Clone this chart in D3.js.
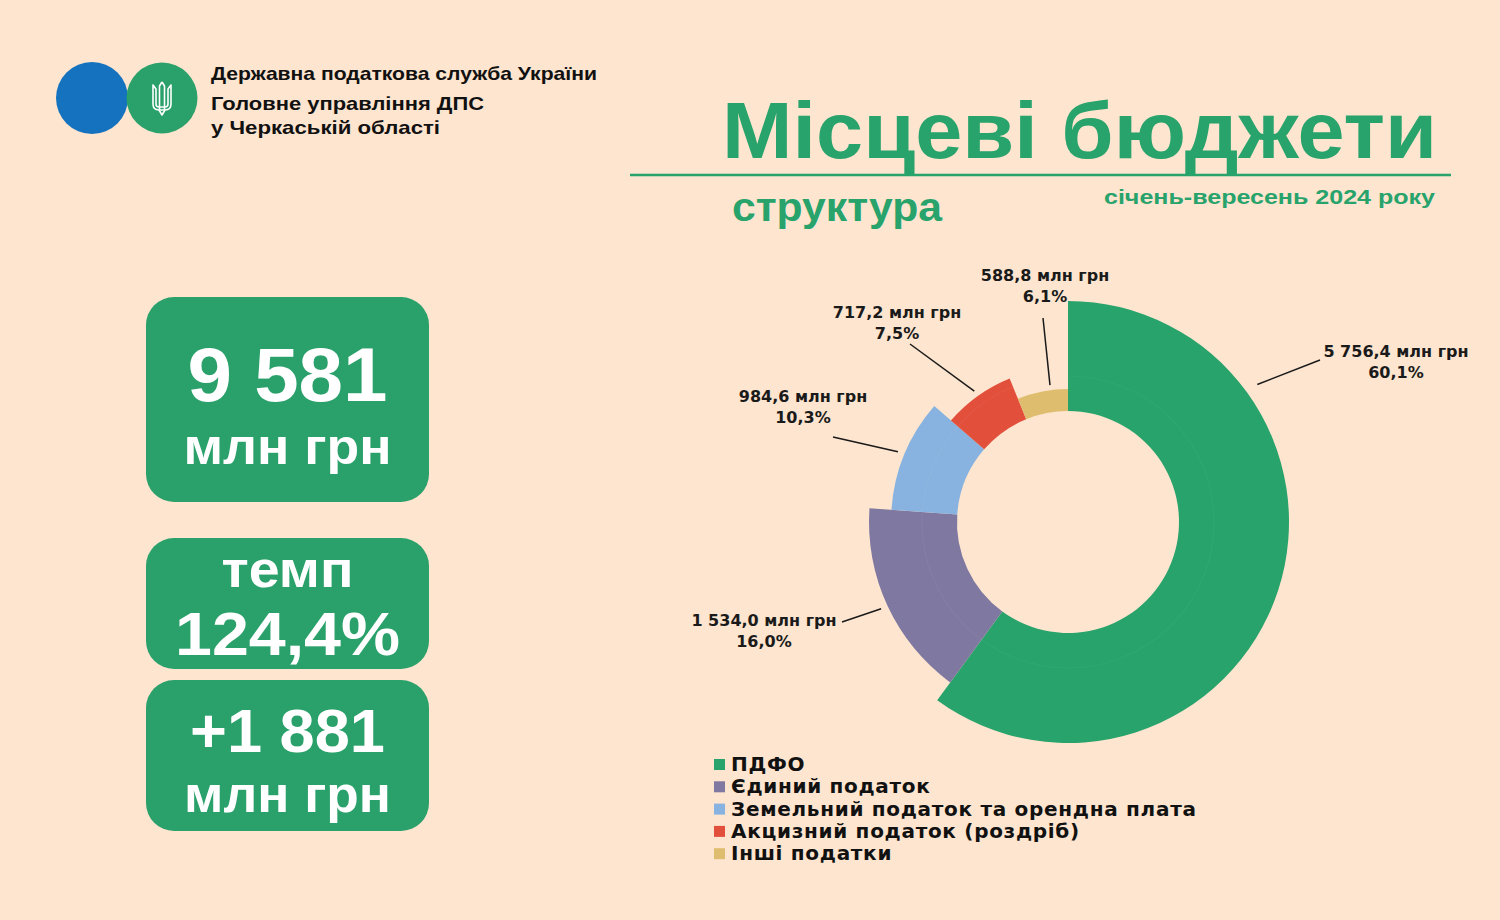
<!DOCTYPE html>
<html>
<head>
<meta charset="utf-8">
<script src="https://cdn.jsdelivr.net/npm/d3@7"></script>
<style>
  html, body { margin: 0; padding: 0; background: #fde5cf; }
  svg { display: block; }
</style>
</head>
<body>
<svg id="chart"></svg>
<script>
// ---- data ----
var categories = ["ПДФО", "Єдиний податок", "Земельний податок та орендна плата", "Акцизний податок (роздріб)", "Інші податки"];
var values = [5756.4, 1534.0, 984.6, 717.2, 588.8];
var shares = [60.1, 16.0, 10.3, 7.5, 6.1];
var colors = ["#27a36b", "#7f78a0", "#88b2df", "#e2503c", "#dfbd6e"];

var totalText = ["9 581", "млн грн"];
var tempText = ["темп", "124,4%"];
var deltaText = ["+1 881", "млн грн"];

var orgLines = ["Державна податкова служба України", "Головне управління ДПС", "у Черкаській області"];
var title = "Місцеві бюджети";
var subtitle = "структура";
var period = "січень-вересень 2024 року";

// ---- layout ----
var W = 1500, H = 920;
var green = "#27a36b";
var boxGreen = "#2aa06b";
var cx = 1068, cy = 522, innerR = 111;

// label placement per slice (ang in degrees from 12 o'clock, null = mid of slice)
var labelLayout = [
    {ang: 54, gap: 13, lx: 1320, ly: 360, tx: 1396, ty: 357},
    {ang: null, gap: 7, lx: 842, ly: 622, tx: 764, ty: 626},
    {ang: null, gap: 7, lx: 833, ly: 437, tx: 803, ty: 402},
    {ang: null, gap: 6, lx: 910, ly: 344, tx: 897, ty: 318},
    {ang: 352.5, gap: 5, lx: 1043, ly: 318, tx: 1045, ty: 281}
];

var svg = d3.select("#chart")
    .attr("width", W)
    .attr("height", H);

svg.append("rect")
    .attr("width", W).attr("height", H)
    .attr("fill", "#fde5cf");

// ---- header ----
svg.append("circle").attr("cx", 92).attr("cy", 98).attr("r", 36).attr("fill", "#1572be");
svg.append("circle").attr("cx", 162).attr("cy", 98).attr("r", 35.5).attr("fill", "#2aa06b");
var tr = svg.append("g")
    .attr("transform", "translate(162,98)")
    .attr("fill", "none")
    .attr("stroke", "#fff")
    .attr("stroke-width", 1.6)
    .attr("stroke-linejoin", "round");
tr.append("path").attr("d", "M-9,-13 L-9,6 Q-9,12 -3,12 L3,12 Q9,12 9,6 L9,-13 L6,-9 L6,6 Q6,9 3,9 L-3,9 Q-6,9 -6,6 L-6,-9 Z");
tr.append("path").attr("d", "M0,-16 L-2.5,-12 L-2.5,12 M0,-16 L2.5,-12 L2.5,12 M-3,12 L0,17 L3,12");

var org = svg.append("g")
    .attr("font-family", "'Liberation Sans', Arial, sans-serif")
    .attr("font-weight", "bold")
    .attr("font-size", 18.5)
    .attr("fill", "#111");
org.selectAll("text")
    .data(orgLines)
    .enter().append("text")
    .attr("x", 211)
    .attr("y", (d, i) => [80, 110, 134][i])
    .attr("textLength", (d, i) => [386, 273, 229][i])
    .attr("lengthAdjust", "spacingAndGlyphs")
    .text(d => d);

// ---- title ----
svg.append("text")
    .attr("x", 722).attr("y", 158)
    .attr("font-family", "'Liberation Sans', Arial, sans-serif")
    .attr("font-weight", "bold")
    .attr("font-size", 79)
    .attr("fill", green)
    .attr("textLength", 715)
    .attr("lengthAdjust", "spacingAndGlyphs")
    .text(title);

svg.append("line")
    .attr("x1", 630).attr("x2", 1451)
    .attr("y1", 175).attr("y2", 175)
    .attr("stroke", green)
    .attr("stroke-width", 2.5);

svg.append("text")
    .attr("x", 732).attr("y", 221)
    .attr("font-family", "'Liberation Sans', Arial, sans-serif")
    .attr("font-weight", "bold")
    .attr("font-size", 40)
    .attr("fill", green)
    .attr("textLength", 210)
    .attr("lengthAdjust", "spacingAndGlyphs")
    .text(subtitle);

svg.append("text")
    .attr("x", 1104).attr("y", 204)
    .attr("font-family", "'Liberation Sans', Arial, sans-serif")
    .attr("font-weight", "bold")
    .attr("font-size", 21)
    .attr("fill", green)
    .attr("textLength", 331)
    .attr("lengthAdjust", "spacingAndGlyphs")
    .text(period);

// ---- KPI boxes ----
var boxes = [
    {y: 297, h: 205, lines: totalText, ys: [401, 464], sizes: [76, 50], widths: [200, 208]},
    {y: 538, h: 131, lines: tempText, ys: [587, 655], sizes: [52, 62], widths: [132, 225]},
    {y: 680, h: 151, lines: deltaText, ys: [752, 812], sizes: [62, 52], widths: [195, 207]}
];
var bx = svg.selectAll(".box")
    .data(boxes)
    .enter().append("g")
    .attr("class", "box");
bx.append("rect")
    .attr("x", 146).attr("y", d => d.y)
    .attr("width", 283).attr("height", d => d.h)
    .attr("rx", 28).attr("ry", 28)
    .attr("fill", boxGreen);
bx.each(function(b) {
    d3.select(this).selectAll("text")
        .data(b.lines)
        .enter().append("text")
        .attr("x", 287.5)
        .attr("y", (d, i) => b.ys[i])
        .attr("text-anchor", "middle")
        .attr("font-family", "'Liberation Sans', Arial, sans-serif")
        .attr("font-weight", "bold")
        .attr("font-size", (d, i) => b.sizes[i])
        .attr("textLength", (d, i) => b.widths[i])
        .attr("lengthAdjust", "spacingAndGlyphs")
        .attr("fill", "#fff")
        .text(d => d);
});

// ---- donut ----
var pie = d3.pie().sort(null).value(d => d.value);
var data = categories.map(function(c, i) {
    return {name: c, value: values[i], share: shares[i], color: colors[i], idx: i};
});
var arcs = pie(data);

var rScale = d3.scaleLinear()
    .domain([0, categories.length - 1])
    .range([221, 133]);

var arc = d3.arc()
    .innerRadius(innerR)
    .outerRadius(d => rScale(d.data.idx));

var g = svg.append("g").attr("transform", "translate(" + cx + "," + cy + ")");

g.selectAll("path.slice")
    .data(arcs)
    .enter().append("path")
    .attr("class", "slice")
    .attr("d", arc)
    .attr("fill", d => d.data.color);

// faint inner ring
g.append("circle")
    .attr("r", 146)
    .attr("fill", "none")
    .attr("stroke", "#fff")
    .attr("stroke-opacity", 0.045)
    .attr("stroke-width", 1.2);

// leader lines + labels
var fmt = function(v) {
    var s = v.toFixed(1).replace(".", ",");
    var parts = s.split(",");
    parts[0] = parts[0].replace(/\B(?=(\d{3})+(?!\d))/g, " ");
    return parts.join(",");
};

var lab = svg.append("g")
    .attr("font-family", "'DejaVu Sans', sans-serif")
    .attr("font-weight", "bold")
    .attr("font-size", 16)
    .attr("fill", "#1a1a1a");

arcs.forEach(function(a, i) {
    var L = labelLayout[i];
    var ang = L.ang !== null ? L.ang * Math.PI / 180 : (a.startAngle + a.endAngle) / 2;
    var r = rScale(a.data.idx) + L.gap;
    var sx = cx + Math.sin(ang) * r;
    var sy = cy - Math.cos(ang) * r;
    lab.append("line")
        .attr("x1", sx).attr("y1", sy)
        .attr("x2", L.lx).attr("y2", L.ly)
        .attr("stroke", "#1a1a1a")
        .attr("stroke-width", 1.5);
    var t = lab.append("text")
        .attr("text-anchor", "middle");
    t.append("tspan")
        .attr("x", L.tx).attr("y", L.ty)
        .text(fmt(a.data.value) + " млн грн");
    t.append("tspan")
        .attr("x", L.tx).attr("y", L.ty + 21)
        .text(fmt(a.data.share) + "%");
});

// ---- legend ----
var leg = svg.append("g")
    .attr("transform", "translate(714,0)");
var li = leg.selectAll("g")
    .data(data)
    .enter().append("g")
    .attr("transform", (d, i) => "translate(0," + (771 + i * 22.3) + ")");
li.append("rect")
    .attr("x", 0).attr("y", -12)
    .attr("width", 11).attr("height", 11)
    .attr("fill", d => d.color);
li.append("text")
    .attr("x", 17)
    .attr("font-family", "'DejaVu Sans', sans-serif")
    .attr("font-weight", "bold")
    .attr("font-size", 20)
    .attr("letter-spacing", 0.7)
    .attr("fill", "#111")
    .text(d => d.name);
</script>
</body>
</html>
